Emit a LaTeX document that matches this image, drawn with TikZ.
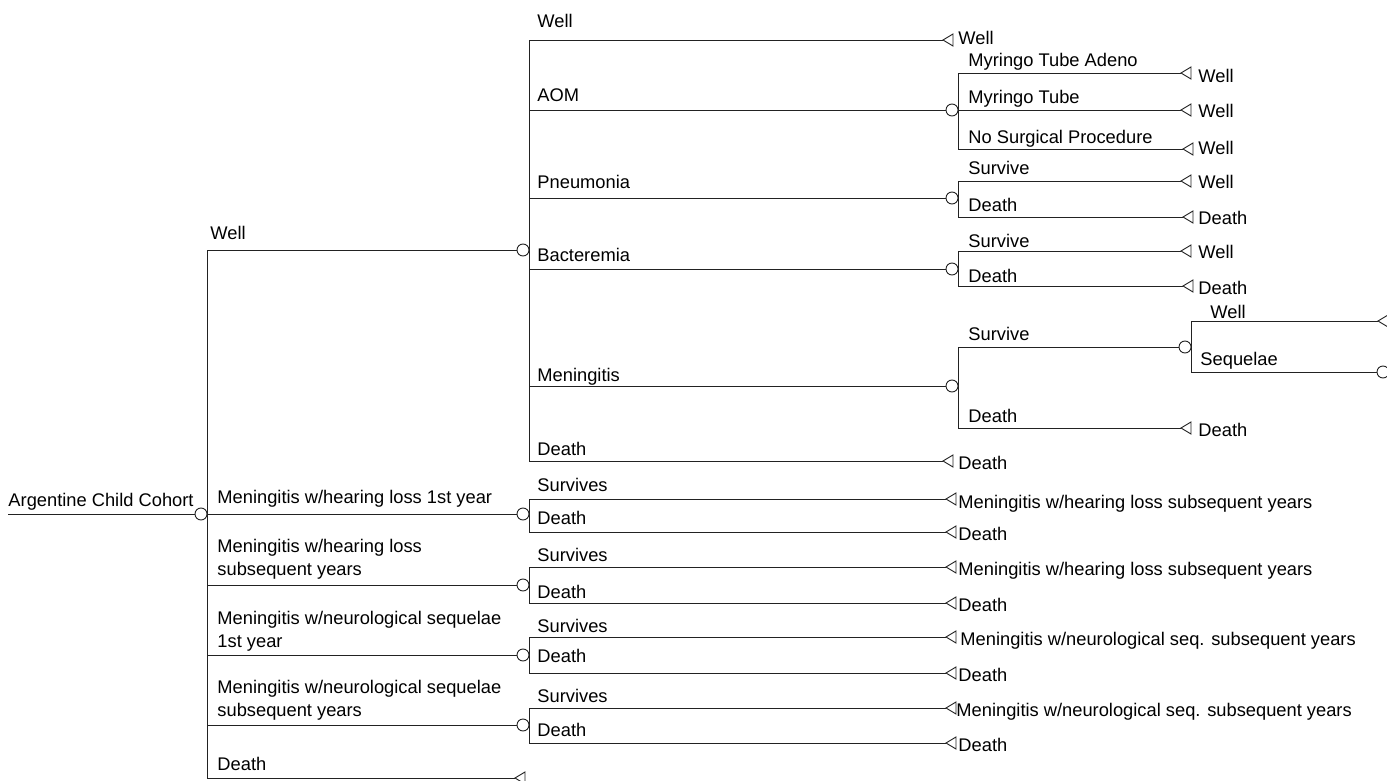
\documentclass[tikz,border=0pt]{standalone}
\usepackage{fontspec}
\setmainfont{Liberation Sans}
\usetikzlibrary{positioning}
\newcommand{\treefont}{\fontsize{18.3}{23}\selectfont}
\definecolor{tline}{HTML}{222222}

\begin{document}
\begin{tikzpicture}[x=1pt, y=-1pt, line width=0.9pt, draw=tline,
  chance/.style={circle, draw=tline, fill=white, inner sep=0pt, minimum size=12pt},
  lbl/.style={anchor=base west, inner sep=0pt, align=left, font=\treefont}]
  \useasboundingbox (0,0) rectangle (1387,781);

  % chance nodes
  \node[chance] (root)  at (201,514) {};
  \node[chance] (wellC) at (523,250) {};
  \node[chance] (hl1C)  at (523,514) {};
  \node[chance] (hlsC)  at (523,585) {};
  \node[chance] (ns1C)  at (523,655) {};
  \node[chance] (nssC)  at (523,725) {};
  \node[chance] (aomC)  at (952,110) {};
  \node[chance] (pneuC) at (952,198) {};
  \node[chance] (bactC) at (952,269) {};
  \node[chance] (menC)  at (952,386) {};
  \node[chance] (survC) at (1185,347) {};
  \node[chance] (seqC)  at (1383,372) {};

  % terminal tips
  \coordinate (start)   at (8,514);
  \coordinate (deathT)  at (515,778);
  \coordinate (wWellT)  at (943,40);
  \coordinate (wDeathT) at (943,461);
  \coordinate (mtaT)    at (1181,73);
  \coordinate (mtT)     at (1181,110);
  \coordinate (nspT)    at (1183,149);
  \coordinate (pSurvT)  at (1181,181);
  \coordinate (pDeathT) at (1183,217);
  \coordinate (bSurvT)  at (1181,251);
  \coordinate (bDeathT) at (1183,286);
  \coordinate (mDeathT) at (1181,428);
  \coordinate (sWellT)  at (1378,321);
  \coordinate (hl1S) at (946,499);  \coordinate (hl1D) at (946,532);
  \coordinate (hlsS) at (946,567);  \coordinate (hlsD) at (946,603);
  \coordinate (ns1S) at (946,637);  \coordinate (ns1D) at (946,673);
  \coordinate (nssS) at (946,708);  \coordinate (nssD) at (946,743);

  % connectors
  \draw (start) -- (root.west);
  \foreach \c in {wellC,hl1C,hlsC,ns1C,nssC}
    \draw (root.east) |- (\c.west);
  \draw (root.east) |- (deathT);
  \foreach \c in {aomC,pneuC,bactC,menC}
    \draw (wellC.east) |- (\c.west);
  \draw (wellC.east) |- (wWellT);
  \draw (wellC.east) |- (wDeathT);
  \foreach \t in {mtaT,mtT,nspT}
    \draw (aomC.east) |- (\t);
  \draw (pneuC.east) |- (pSurvT);
  \draw (pneuC.east) |- (pDeathT);
  \draw (bactC.east) |- (bSurvT);
  \draw (bactC.east) |- (bDeathT);
  \draw (menC.east) |- (survC.west);
  \draw (menC.east) |- (mDeathT);
  \draw (survC.east) |- (sWellT);
  \draw (survC.east) |- (seqC.west);
  \foreach \c in {hl1,hls,ns1,nss}{
    \draw (\c C.east) |- (\c S);
    \draw (\c C.east) |- (\c D);
  }

  % terminal triangles
  \foreach \t in {deathT,wWellT,wDeathT,mtaT,mtT,nspT,pSurvT,pDeathT,bSurvT,bDeathT,
                  mDeathT,sWellT,hl1S,hl1D,hlsS,hlsD,ns1S,ns1D,nssS,nssD}
    \draw[fill=white] (\t) -- ++(10,-6) -- ++(0,12) -- cycle;

  % branch labels
  \node[lbl] (cohortL) at (8,506)   {Argentine Child Cohort};
  \node[lbl] (wellL)   at (210,239) {Well};
  \node[lbl] (hl1L)    at (217,503) {Meningitis w/hearing loss 1st year};
  \node[lbl] (hlsL)    at (217,575) {Meningitis w/hearing loss\\subsequent years};
  \node[lbl] (ns1L)    at (217,647) {Meningitis w/neurological sequelae\\1st year};
  \node[lbl] (nssL)    at (217,716) {Meningitis w/neurological sequelae\\subsequent years};
  \node[lbl] (deathL)  at (217,770) {Death};

  \node[lbl] (wWellL)  at (537,28)  {Well};
  \node[lbl] (aomL)    at (537,102) {AOM};
  \node[lbl] (pneuL)   at (537,188) {Pneumonia};
  \node[lbl] (bactL)   at (537,261) {Bacteremia};
  \node[lbl] (menL)    at (537,381) {Meningitis};
  \node[lbl] (wDeathL) at (537,455) {Death};

  \node[lbl] (mtaL)    at (968,67)  {Myringo Tube Adeno};
  \node[lbl] (mtL)     at (968,104) {Myringo Tube};
  \node[lbl] (nspL)    at (968,143) {No Surgical Procedure};
  \node[lbl] (pSurvL)  at (968,175) {Survive};
  \node[lbl] (pDeathL) at (968,211) {Death};
  \node[lbl] (bSurvL)  at (968,247) {Survive};
  \node[lbl] (bDeathL) at (968,282) {Death};
  \node[lbl] (mSurvL)  at (968,340) {Survive};
  \node[lbl] (mDeathL) at (968,422) {Death};
  \node[lbl] (sWellL)  at (1210,318) {Well};
  \node[lbl] (sSeqL)   at (1200,365) {Sequelae};

  \node[lbl] (hl1SL) at (537,491) {Survives};  \node[lbl] (hl1DL) at (537,524) {Death};
  \node[lbl] (hlsSL) at (537,561) {Survives};  \node[lbl] (hlsDL) at (537,598) {Death};
  \node[lbl] (ns1SL) at (537,632) {Survives};  \node[lbl] (ns1DL) at (537,662) {Death};
  \node[lbl] (nssSL) at (537,702) {Survives};  \node[lbl] (nssDL) at (537,736) {Death};

  % terminal labels
  \node[lbl] (wWellE)  at (958,45)  {Well};
  \node[lbl] (wDeathE) at (958,469) {Death};
  \node[lbl] (mtaE)    at (1198,83)  {Well};
  \node[lbl] (mtE)     at (1198,118) {Well};
  \node[lbl] (nspE)    at (1198,154) {Well};
  \node[lbl] (pSurvE)  at (1198,189) {Well};
  \node[lbl] (pDeathE) at (1198,224) {Death};
  \node[lbl] (bSurvE)  at (1198,258) {Well};
  \node[lbl] (bDeathE) at (1198,294) {Death};
  \node[lbl] (mDeathE) at (1198,436) {Death};

  \node[lbl] (hl1SE) at (958,508) {Meningitis w/hearing loss subsequent years};
  \node[lbl] (hl1DE) at (958,540) {Death};
  \node[lbl] (hlsSE) at (958,575) {Meningitis w/hearing loss subsequent years};
  \node[lbl] (hlsDE) at (958,611) {Death};
  \node[lbl] (ns1SE) at (960,645) {Meningitis w/neurological seq. subsequent years};
  \node[lbl] (ns1DE) at (958,681) {Death};
  \node[lbl] (nssSE) at (956,716) {Meningitis w/neurological seq. subsequent years};
  \node[lbl] (nssDE) at (958,751) {Death};
\end{tikzpicture}
\end{document}
